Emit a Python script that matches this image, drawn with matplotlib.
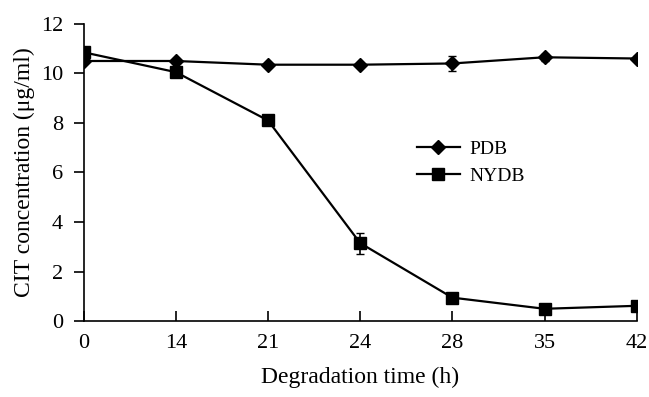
import numpy as np
import matplotlib.pyplot as plt

plt.rcParams['font.family'] = ['Liberation Serif', 'DejaVu Serif']

# Data
times = ['0', '14', '21', '24', '28', '35', '42']
pdb = [10.5, 10.5, 10.35, 10.35, 10.4, 10.65, 10.6]
pdb_err = [0.1, 0.08, 0.05, 0.05, 0.3, 0.15, 0.12]
nydb = [10.85, 10.05, 8.1, 3.15, 0.95, 0.5, 0.62]
nydb_err = [0.1, 0.1, 0.1, 0.42, 0.1, 0.1, 0.1]

x = np.arange(len(times))

fig = plt.figure(figsize=(6.49, 3.97), dpi=100)
ax = fig.add_axes([0.129, 0.191, 0.852, 0.749])

eb1 = ax.errorbar(x, pdb, yerr=pdb_err, color='black', marker='D', markersize=7,
                  linewidth=1.6, capsize=3, elinewidth=1.2)
eb2 = ax.errorbar(x, nydb, yerr=nydb_err, color='black', marker='s', markersize=9,
                  linewidth=1.6, capsize=3, elinewidth=1.2)

ax.set_xlim(0, len(times) - 1)
ax.set_ylim(0, 12)
ax.set_xticks(x)
ax.set_xticklabels(times)
ax.set_yticks(np.arange(0, 13, 2))

ax.spines['top'].set_visible(False)
ax.spines['right'].set_visible(False)
ax.spines['left'].set_linewidth(1.2)
ax.spines['bottom'].set_linewidth(1.2)
ax.tick_params(axis='x', direction='in', length=7, width=1.2, labelsize=16, pad=9)
ax.tick_params(axis='y', direction='out', length=7, width=1.2, labelsize=16, pad=8)
for lab in ax.get_xticklabels() + ax.get_yticklabels():
    lab.set_clip_on(False)

ax.set_xlabel('Degradation time (h)', fontsize=17, labelpad=10)
ax.set_ylabel('CIT concentration (μg/ml)', fontsize=17, labelpad=4)

ax.legend([eb1[0], eb2[0]], ['PDB', 'NYDB'], loc='upper left',
          bbox_to_anchor=(0.585, 0.64), frameon=False, fontsize=14,
          handlelength=2.2, handletextpad=0.5, labelspacing=0.45, borderpad=0)

fig.savefig('out.png', dpi=100)
